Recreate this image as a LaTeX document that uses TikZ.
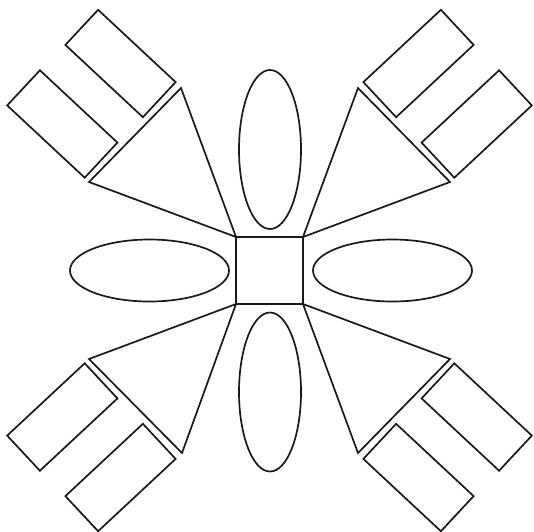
\documentclass[tikz,border=0pt]{standalone}
\usetikzlibrary{shapes.geometric}
\begin{document}
\begin{tikzpicture}[x=1pt,y=-1pt,
  ink/.style={line width=1.7pt,draw=black!90,line join=miter},
  bar/.style={ink,rectangle,minimum width=106pt,minimum height=48pt,inner sep=0pt,outer sep=0pt},
  lobeV/.style={ink,ellipse,minimum width=62pt,minimum height=159pt,inner sep=0pt},
  lobeH/.style={ink,ellipse,minimum width=159pt,minimum height=62pt,inner sep=0pt},
  hub/.style={ink,rectangle,minimum size=67pt,inner sep=0pt,outer sep=0pt}]
\path[use as bounding box] (0,0) rectangle (534,531);
% centre square
\node[hub] (sq) at (269.5,270.5) {};
% ellipses
\node[lobeV] (et) at (270,149.5) {};
\node[lobeV] (eb) at (270,392) {};
\node[lobeH] (el) at (149.5,270.5) {};
\node[lobeH] (er) at (392.5,270.5) {};
% triangle outer vertices
\coordinate (tl1) at (181,88);  \coordinate (tl2) at (89,182);
\coordinate (tr1) at (358,88);  \coordinate (tr2) at (450,182);
\coordinate (bl1) at (89,359);  \coordinate (bl2) at (182,453);
\coordinate (br1) at (450,359); \coordinate (br2) at (358,453);
\draw[ink] (sq.north west) -- (tl1) -- (tl2) -- cycle;
\draw[ink] (sq.north east) -- (tr1) -- (tr2) -- cycle;
\draw[ink] (sq.south west) -- (bl1) -- (bl2) -- cycle;
\draw[ink] (sq.south east) -- (br1) -- (br2) -- cycle;
% bars
\node[bar,rotate=-43] (rtl1) at (120.5,63.5) {};
\node[bar,rotate=-43] (rtl2) at (62.3,124) {};
\node[bar,rotate=43] (rtr1) at (418.5,63.5) {};
\node[bar,rotate=43] (rtr2) at (476.7,124) {};
\node[bar,rotate=43] (rbl1) at (62.3,417) {};
\node[bar,rotate=43] (rbl2) at (120.5,477.5) {};
\node[bar,rotate=-43] (rbr1) at (476.7,417) {};
\node[bar,rotate=-43] (rbr2) at (418.5,477.5) {};
\end{tikzpicture}
\end{document}
